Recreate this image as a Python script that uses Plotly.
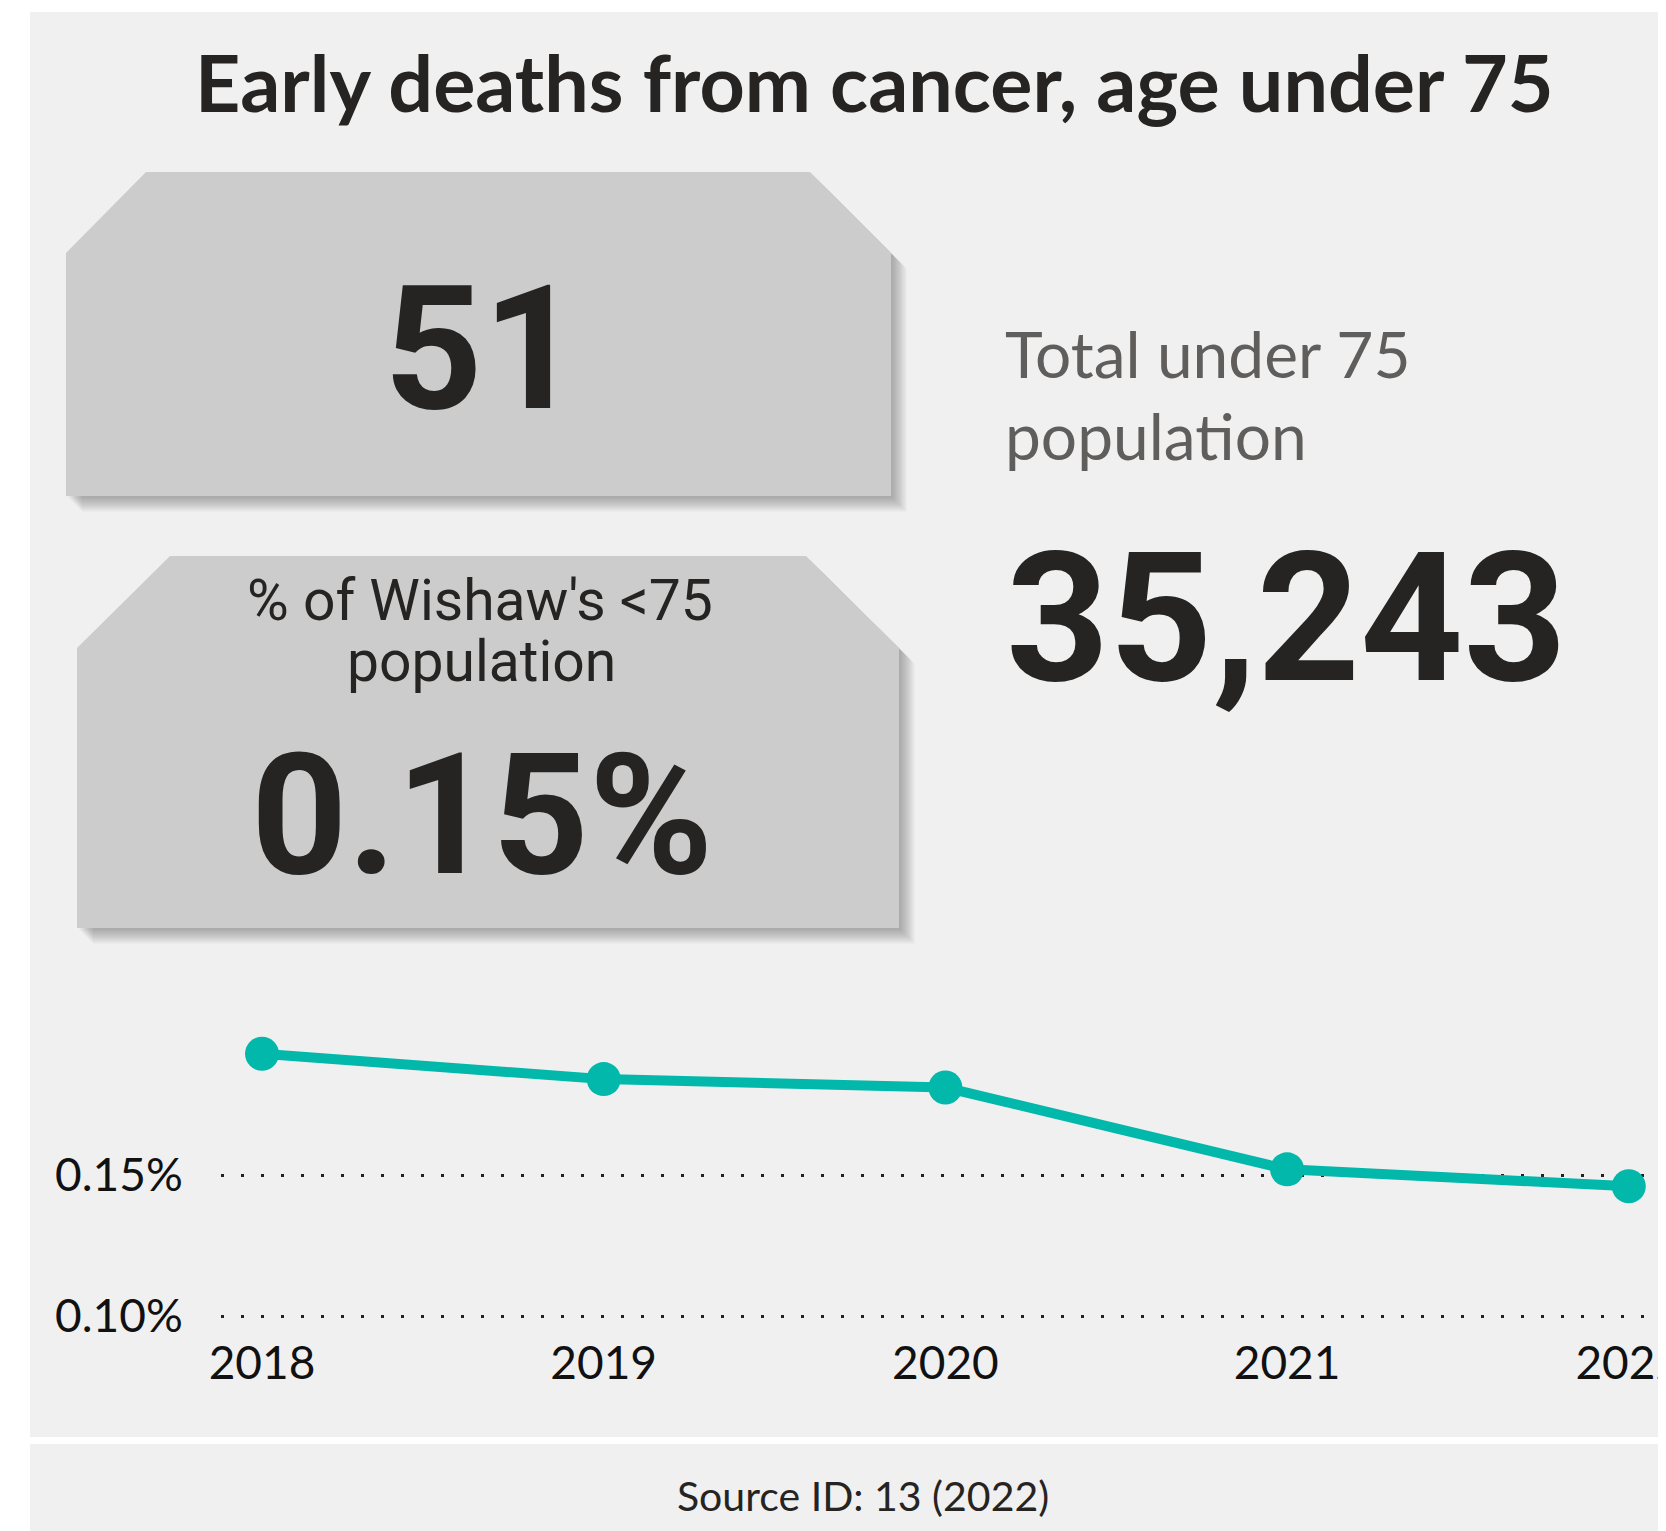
import plotly.graph_objects as go

# ---------------- data ----------------
years = ["2018", "2019", "2020", "2021", "2022"]
pct_under75 = [0.193, 0.184, 0.181, 0.152, 0.146]   # % of <75 population
y_tick_vals = [0.10, 0.15]
y_tick_text = ["0.10%", "0.15%"]

title_text = "Early deaths from cancer, age under 75"
deaths_value = "51"
share_label_lines = ["% of Wishaw's <75", "population"]
share_value = "0.15%"
pop_label_lines = ["Total under 75", "population"]
pop_value = "35,243"
source_text = "Source ID: 13 (2022)"

# ---------------- layout geometry (page pixels) ----------------
OFF = 8                                    # browser body margin
PW, PH = 1666, 1531                        # page size
FW, FH = PW - OFF, PH - OFF                # figure size
L, R, T, B = 221, 1666, 960, 1320          # plot area in page pixels


def X(px):
    return (px - L) / (R - L)


def Y(py):
    return (B - py) / (B - T)


def poly(points, dx=0, dy=0):
    return "M " + " L ".join(f"{X(x + dx):.5f},{Y(y + dy):.5f}" for x, y in points) + " Z"


TEAL = "#01B8AA"
DARK = "#252423"
GREY_TXT = "#605E5C"
PANEL = "#F0F0F0"
CARD = "#CCCCCC"
BIG_FONT = "Roboto, sans-serif"
SUB_FONT = "Roboto, sans-serif"
UI_FONT = "Lato, Open Sans, sans-serif"

card1 = [(66, 253), (146, 172), (810, 172), (891, 253), (891, 496), (66, 496)]
card2 = [(77, 648), (170, 556), (806, 556), (899, 648), (899, 928), (77, 928)]

shapes = []
# main panel and footer panel
shapes.append(dict(type="rect", xref="paper", yref="paper", layer="below",
                   x0=X(30), x1=X(1700), y0=Y(12), y1=Y(1437),
                   fillcolor=PANEL, line=dict(width=0)))
shapes.append(dict(type="rect", xref="paper", yref="paper", layer="below",
                   x0=X(30), x1=X(1700), y0=Y(1444), y1=Y(1560),
                   fillcolor=PANEL, line=dict(width=0)))
# card shadows (layered to fake blur)
for card in (card1, card2):
    for k in range(2, 17):
        shapes.append(dict(type="path", xref="paper", yref="paper", layer="below",
                           path=poly(card, k, k), fillcolor="rgba(0,0,0,0.02)",
                           line=dict(width=0)))
# cards
for card in (card1, card2):
    shapes.append(dict(type="path", xref="paper", yref="paper", layer="below",
                       path=poly(card), fillcolor=CARD, line=dict(width=0)))

annotations = [
    dict(text=title_text, x=X(874), y=Y(82), xanchor="center", yanchor="middle",
         font=dict(family=UI_FONT, size=79, color=DARK, weight="bold")),
    dict(text=deaths_value, x=X(482), y=Y(349), xanchor="center", yanchor="middle",
         font=dict(family=BIG_FONT, size=172, color=DARK, weight="bold")),
    dict(text=share_label_lines[0], x=X(480), y=Y(600), xanchor="center", yanchor="middle",
         font=dict(family=SUB_FONT, size=57, color=DARK)),
    dict(text=share_label_lines[1], x=X(481), y=Y(661), xanchor="center", yanchor="middle",
         font=dict(family=SUB_FONT, size=57, color=DARK)),
    dict(text=share_value, x=X(482), y=Y(815), xanchor="center", yanchor="middle",
         font=dict(family=BIG_FONT, size=168, color=DARK, weight="bold")),
    dict(text=pop_label_lines[0], x=X(1003), y=Y(353), xanchor="left", yanchor="middle",
         font=dict(family=UI_FONT, size=64, color=GREY_TXT)),
    dict(text=pop_label_lines[1], x=X(1003), y=Y(435), xanchor="left", yanchor="middle",
         font=dict(family=UI_FONT, size=64, color=GREY_TXT)),
    dict(text=pop_value, x=X(1004), y=Y(618), xanchor="left", yanchor="middle",
         font=dict(family=BIG_FONT, size=180, color=DARK, weight="bold")),
    dict(text=source_text, x=X(863), y=Y(1495), xanchor="center", yanchor="middle",
         font=dict(family=UI_FONT, size=41, color=DARK)),
]
for a in annotations:
    a.update(xref="paper", yref="paper", showarrow=False)

fig = go.Figure()
fig.add_trace(go.Scatter(
    x=years, y=pct_under75, mode="lines+markers",
    line=dict(color=TEAL, width=10),
    marker=dict(color=TEAL, size=34),
    hoverinfo="skip", showlegend=False, cliponaxis=False,
))

# y value <-> pixel: 0.15 at 1175 px, 0.10 at 1316 px
px_per_pct = (1316 - 1175) / 0.05
y_lo = 0.10 - (B - 1316) / px_per_pct
y_hi = 0.15 + (1175 - T) / px_per_pct

fig.update_layout(
    width=FW, height=FH,
    margin=dict(l=L - OFF, r=PW - R, t=T - OFF, b=PH - B, pad=0),
    paper_bgcolor="#FFFFFF", plot_bgcolor="rgba(0,0,0,0)",
    shapes=shapes, annotations=annotations,
    showlegend=False,
    xaxis=dict(type="category", range=[-0.12, 4.109], showgrid=False, zeroline=False,
               showline=False, ticks="outside", ticklen=3, tickcolor="rgba(0,0,0,0)",
               tickfont=dict(family=UI_FONT, size=46, color="#111111"), automargin=False,
               fixedrange=True),
    yaxis=dict(range=[y_lo, y_hi], tickvals=y_tick_vals, ticktext=y_tick_text,
               showgrid=True, gridcolor="#222222", gridwidth=3, griddash="3px,17px",
               zeroline=False, showline=False, ticks="outside", ticklen=28,
               tickcolor="rgba(0,0,0,0)",
               tickfont=dict(family=UI_FONT, size=46, color="#111111"), automargin=False,
               fixedrange=True),
)

fig.write_html("out.html")
